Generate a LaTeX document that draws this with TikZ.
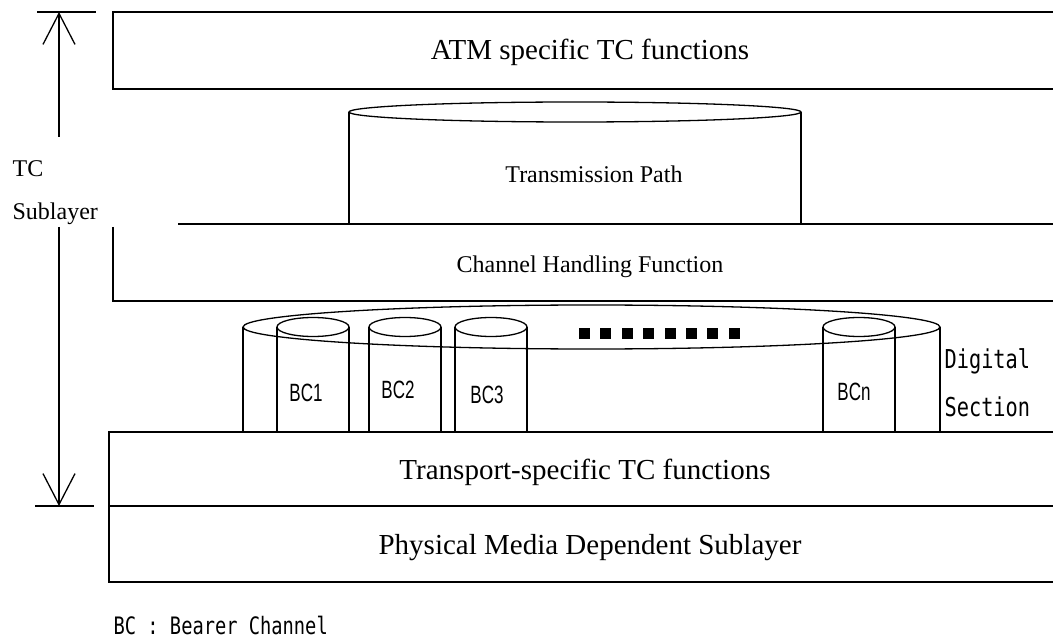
\documentclass[tikz,border=0pt]{standalone}
\usepackage{fontspec}
\setmainfont{Liberation Serif}
\newfontfamily\monofont[FakeStretch=0.78]{DejaVu Sans Mono}
\newfontfamily\bcfont[FakeStretch=0.68]{Liberation Sans}
\usetikzlibrary{arrows.meta}
\begin{document}
\begin{tikzpicture}[x=1pt,y=-1pt, line width=1.3pt,
  big/.style={font=\fontsize{29}{32}\selectfont, inner sep=0, anchor=base},
  small/.style={font=\fontsize{24}{27}\selectfont, inner sep=0, anchor=base},
  bclabel/.style={font=\bcfont\fontsize{25}{27}\selectfont, inner sep=0, anchor=base},
  mono/.style={font=\monofont\fontsize{26}{28}\selectfont, inner sep=0, anchor=base west},
  footmono/.style={font=\monofont\fontsize{24}{26}\selectfont, inner sep=0, anchor=base west},
  barb/.style={-{Straight Barb[length=31pt,width=32pt,line width=1.3pt]}},
  layer/.style={draw=black}
]
\useasboundingbox (0,0) rectangle (1053,639);

% ATM specific TC functions box
\draw[layer] (1053,12) -- (113,12) -- (113,89) -- (1053,89);
\node[big] (atm) at (590,60) {ATM specific TC functions};

% Transmission path cylinder
\draw (349,224) -- (349,112);
\draw (801,112) -- (801,224);
\draw (575,112) ellipse [x radius=226, y radius=10];
\node[small] (tp) at (594,183) {Transmission Path};

% Channel handling box
\draw (178,224) -- (1053,224);
\draw (113,227) -- (113,301) -- (1053,301);
\node[small] (ch) at (590,273) {Channel Handling Function};

% Digital section cylinder
\draw (591.5,327) ellipse [x radius=348.5, y radius=22];
\draw (243,327) -- (243,432);
\draw (940,327) -- (940,432);

% Bearer channels
\foreach \cx/\lab/\lx/\ly in {313/BC1/306/401, 405/BC2/398/398, 491/BC3/487/403, 859/BCn/854/400}{
  \draw (\cx-36,327) -- (\cx-36,432);
  \draw (\cx+36,327) -- (\cx+36,432);
  \draw (\cx,327) ellipse [x radius=36, y radius=9.5];
  \node[bclabel] (n\lab) at (\lx,\ly) {\lab};
}
\foreach \i in {0,...,7}{
  \fill (579+21.4*\i,328) rectangle ++(11,11);
}
\node[mono] (dig) at (944,368) {Digital};
\node[mono] (sec) at (944,416) {Section};

% Transport-specific and PMD boxes
\draw (1053,432) -- (109,432) -- (109,582) -- (1053,582);
\draw (109,506) -- (1053,506);
\node[big] (tr) at (585,479) {Transport-specific TC functions};
\node[big] (pmd) at (590,554) {Physical Media Dependent Sublayer};

% TC sublayer extent arrows
\node[small, anchor=base west] (tc) at (12,177) {TC};
\node[small, anchor=base west] (sub) at (12,220) {Sublayer};
\coordinate (topend) at (59,12);
\coordinate (topstart) at (59,137);
\coordinate (botstart) at (59,227);
\coordinate (botend) at (59,506);
\draw[barb] (topstart) -- (topend);
\draw (37,12) -- (96,12);
\draw[barb] (botstart) -- (botend);
\draw (35,506) -- (94,506);

\node[footmono] (foot) at (113,634) {BC : Bearer Channel};
\end{tikzpicture}
\end{document}
